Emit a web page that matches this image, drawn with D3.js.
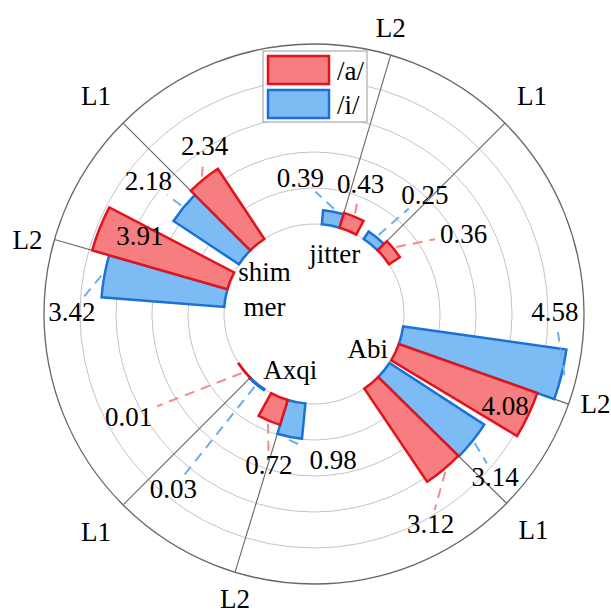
<!DOCTYPE html>
<html lang="en">
<head>
<meta charset="UTF-8">
<title>Radial bars</title>
<script src="https://d3js.org/d3.v7.min.js"></script>
<style>
    body { margin: 0; background: #fff; }
</style>
</head>
<body>
<svg id="chart" width="611" height="615"></svg>
<script>
// data
const categories = ["jitter", "Abi", "Axqi", "shimmer"];
const a_L1 = [0.36, 3.12, 0.01, 2.34];
const a_L2 = [0.43, 4.08, 0.72, 3.91];
const i_L1 = [0.25, 3.14, 0.03, 2.18];
const i_L2 = [0.39, 4.58, 0.98, 3.42];
const ringTicks = [0, 1, 2, 3, 4, 5];
const vowels = ["/a/", "/i/"];

// layout (degrees clockwise from top)
const l1Angle = [45, 134.5, 225, 315];
const l2Angle = [16.5, 109.5, 197, 286];
const barW = 11.5;
// label nudges [dAngle, dRadiusPx] per group, order: i L2, a L2, i L1, a L1
const labelNudge = [
    [[-16.5, 33], [-2.6, 33], [3.6, 64], [11, 67]],
    [[-14.2, -14], [0.4, -25], [3.3, 41], [10.7, 38]],
    [[-18.7, 22], [-6.1, 42], [-0.4, 133], [10.1, 122]],
    [[-9.7, 29], [2.4, -40], [-0.5, 44], [6.1, 26]]
];
const catPos = [[19, 64], [123, 64], [203, 61], [296, 55]];

const width = 611, height = 615;
const cx = 314, cy = 314;
const fs = 27;
const serif = '"Liberation Serif"';

const colors = {
    a: { fill: "#f67d80", stroke: "#e1141c", dash: "#f08c8c" },
    i: { fill: "#7dbbf4", stroke: "#1a72d8", dash: "#6aaeea" }
};

const svg = d3.select("#chart");
const g = svg.append("g").attr("transform", `translate(${cx},${cy})`);

const r = d3.scaleLinear().domain([0, 5]).range([90, 270]);
const rad = d => d * Math.PI / 180;
function polar(ang, rr) {
    return [rr * Math.sin(rad(ang)), -rr * Math.cos(rad(ang))];
}

// rings
g.selectAll("circle.ring")
    .data(ringTicks)
    .join("circle")
    .attr("class", "ring")
    .attr("r", d => r(d))
    .attr("fill", "none")
    .attr("stroke", d => d === 5 ? "#666" : "#c4c4c4")
    .attr("stroke-width", d => d === 5 ? 1.3 : 1);

// radial lines + L labels
const spokes = [];
categories.forEach((c, k) => {
    spokes.push({ ang: l2Angle[k], name: "L2" });
    spokes.push({ ang: l1Angle[k], name: "L1" });
});
g.selectAll("line.spoke")
    .data(spokes)
    .join("line")
    .attr("class", "spoke")
    .attr("x1", d => polar(d.ang, r(0))[0])
    .attr("y1", d => polar(d.ang, r(0))[1])
    .attr("x2", d => polar(d.ang, r(5))[0])
    .attr("y2", d => polar(d.ang, r(5))[1])
    .attr("stroke", "#666")
    .attr("stroke-width", 1.1);

// label sits off the spoke end, pushed toward the nearest of 8 directions
function spokeLabelPos(ang) {
    const end = polar(ang, r(5));
    const snap = Math.round(ang / 45) * 45;
    const sx = Math.round(Math.sin(rad(snap)));
    const sy = -Math.round(Math.cos(rad(snap)));
    return [end[0] + 27 * sx, end[1] + 27 * sy];
}
g.selectAll("text.spoke")
    .data(spokes)
    .join("text")
    .attr("class", "spoke")
    .attr("x", d => spokeLabelPos(d.ang)[0])
    .attr("y", d => spokeLabelPos(d.ang)[1])
    .attr("text-anchor", "middle")
    .attr("dominant-baseline", "central")
    .style("font-family", serif)
    .style("font-size", fs + "px")
    .text(d => d.name);

// bars
const bars = [];
categories.forEach((c, k) => {
    const set = [
        { v: i_L2[k], key: "i", s: l2Angle[k] - barW, e: l2Angle[k] },
        { v: a_L2[k], key: "a", s: l2Angle[k], e: l2Angle[k] + barW },
        { v: i_L1[k], key: "i", s: l1Angle[k] - barW, e: l1Angle[k] },
        { v: a_L1[k], key: "a", s: l1Angle[k], e: l1Angle[k] + barW }
    ];
    set.forEach((b, j) => {
        b.mid = (b.s + b.e) / 2;
        b.nudge = labelNudge[k][j];
        bars.push(b);
    });
});

const arc = d3.arc()
    .innerRadius(r(0))
    .outerRadius(d => r(d.v))
    .startAngle(d => rad(d.s))
    .endAngle(d => rad(d.e));

g.selectAll("path.bar")
    .data(bars)
    .join("path")
    .attr("class", "bar")
    .attr("d", arc)
    .attr("fill", d => colors[d.key].fill)
    .attr("stroke", d => colors[d.key].stroke)
    .attr("stroke-width", 2.5)
    .attr("stroke-linejoin", "miter");

// value labels
const fmt = d3.format(".2f");
const vLabels = g.selectAll("text.val")
    .data(bars)
    .join("text")
    .attr("class", "val")
    .attr("x", d => polar(d.mid + d.nudge[0], r(d.v) + d.nudge[1])[0])
    .attr("y", d => polar(d.mid + d.nudge[0], r(d.v) + d.nudge[1])[1])
    .attr("text-anchor", "middle")
    .attr("dominant-baseline", "central")
    .style("font-family", serif)
    .style("font-size", fs + "px")
    .text(d => fmt(d.v));

// leader lines from bar end to label box
vLabels.each(function(d) {
    const inside = d.nudge[1] < 0 && Math.abs(d.nudge[0]) < barW / 2;
    if (inside) return;
    const p0 = polar(d.mid, r(d.v) + 3);
    const p1 = [+this.getAttribute("x"), +this.getAttribute("y")];
    const hw = this.getComputedTextLength() / 2 + 5, hh = 14;
    const dx = p0[0] - p1[0], dy = p0[1] - p1[1];
    const t = Math.min(dx ? hw / Math.abs(dx) : Infinity, dy ? hh / Math.abs(dy) : Infinity);
    if (t >= 1) return;
    g.insert("line", "text.val")
        .attr("x1", p0[0]).attr("y1", p0[1])
        .attr("x2", p1[0] + dx * t).attr("y2", p1[1] + dy * t)
        .attr("stroke", colors[d.key].dash)
        .attr("stroke-width", 2)
        .attr("stroke-dasharray", "10,7");
});

// category labels
categories.forEach((c, k) => {
    const p = polar(catPos[k][0], catPos[k][1]);
    const lines = c === "shimmer" ? ["shim", "mer"] : [c];
    const t = g.append("text")
        .attr("text-anchor", "middle")
        .style("font-family", serif)
        .style("font-size", fs + "px");
    lines.forEach((ln, j) => {
        t.append("tspan")
            .attr("x", p[0])
            .attr("y", p[1] + (j - (lines.length - 1) / 2) * 35)
            .attr("dominant-baseline", "central")
            .text(ln);
    });
});

// legend
const leg = svg.append("g").attr("transform", "translate(263,51)");
leg.append("rect")
    .attr("width", 104).attr("height", 71)
    .attr("fill", "#fff").attr("stroke", "#999").attr("stroke-width", 1);
["a", "i"].forEach((key, j) => {
    leg.append("rect")
        .attr("x", 5).attr("y", 5 + j * 34)
        .attr("width", 61).attr("height", 28)
        .attr("fill", colors[key].fill)
        .attr("stroke", colors[key].stroke)
        .attr("stroke-width", 2.5);
    leg.append("text")
        .attr("x", 74).attr("y", 20 + j * 34)
        .attr("dominant-baseline", "central")
        .style("font-family", serif)
        .style("font-size", fs + "px")
        .text(vowels[j]);
});
</script>
</body>
</html>
